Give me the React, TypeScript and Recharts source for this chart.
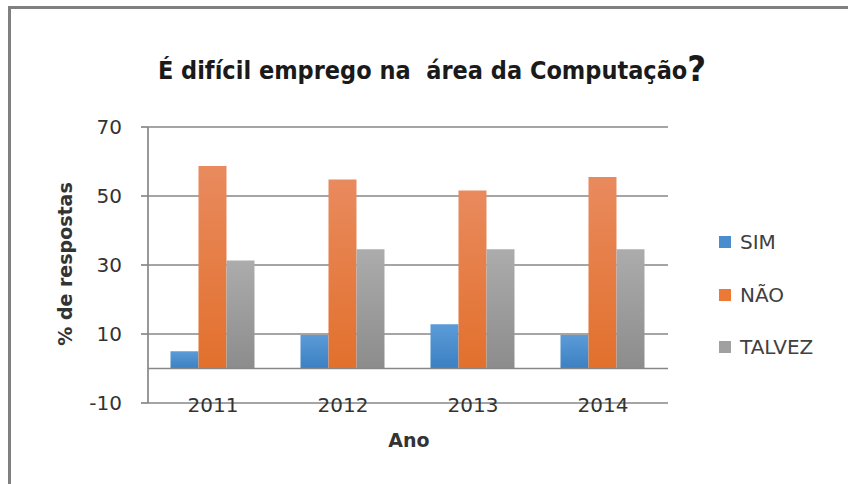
import * as React from "react";
import {
  BarChart,
  Bar,
  XAxis,
  YAxis,
  CartesianGrid,
  ReferenceLine,
} from "recharts";

const years = ["2011", "2012", "2013", "2014"];
const simValues = [5, 9.7, 12.8, 9.7];
const naoValues = [58.7, 54.8, 51.6, 55.5];
const talvezValues = [31.3, 34.6, 34.6, 34.6];
const yTicks = [-10, 10, 30, 50, 70];

const series = [
  { key: "sim", name: "SIM", color: "#4a8dcf", top: "#5b9bd8", bottom: "#3c80c2" },
  { key: "nao", name: "NÃO", color: "#ec7a36", top: "#e98a5e", bottom: "#e2702c" },
  { key: "talvez", name: "TALVEZ", color: "#a0a0a0", top: "#acacac", bottom: "#8c8c8c" },
];

const chartData = years.map((ano, i) => ({
  ano,
  sim: simValues[i],
  nao: naoValues[i],
  talvez: talvezValues[i],
}));

const GRID = "#878787";
const TEXT = "#333333";
const FONT = "'DejaVu Sans', sans-serif";

function YearTick(props: any) {
  const { x, y, payload } = props;
  return (
    <text
      x={x}
      y={y}
      dy={9}
      textAnchor="middle"
      fontFamily={FONT}
      fontSize={20}
      fill={TEXT}
    >
      {payload.value}
    </text>
  );
}

export default function App() {
  return (
    <div
      style={{
        position: "absolute",
        left: 0,
        top: 0,
        width: 848,
        height: 484,
        overflow: "hidden",
        background: "#fff",
      }}
    >
      {/* frame: top and left edges only */}
      <div
        style={{
          position: "absolute",
          left: 8,
          top: 6,
          width: 840,
          height: 3,
          background: "#808080",
        }}
      />
      <div
        style={{
          position: "absolute",
          left: 8,
          top: 6,
          width: 3,
          height: 478,
          background: "#808080",
        }}
      />
      <div
        style={{
          position: "absolute",
          left: 0,
          width: 848,
          top: 48,
          textAlign: "center",
          whiteSpace: "pre",
          fontFamily: "'DejaVu Sans Condensed', 'DejaVu Sans', sans-serif",
          fontWeight: "bold",
          fontSize: 25,
          color: "#1a1a1a",
          paddingLeft: 8,
        }}
      >
        É difícil emprego na  área da Computação
        <span style={{ fontSize: 36, verticalAlign: "-2px" }}>?</span>
      </div>

      <BarChart
        width={848}
        height={484}
        data={chartData}
        margin={{ top: 127, right: 180, bottom: 51, left: 88 }}
        barCategoryGap="17.3%"
        barGap={0}
      >
        <defs>
          {series.map((s) => (
            <linearGradient key={s.key} id={`grad-${s.key}`} x1="0" y1="0" x2="0" y2="1">
              <stop offset="0%" stopColor={s.top} />
              <stop offset="100%" stopColor={s.bottom} />
            </linearGradient>
          ))}
        </defs>
        <CartesianGrid vertical={false} stroke={GRID} strokeWidth={1.7} />
        <XAxis
          dataKey="ano"
          height={30}
          axisLine={false}
          tickLine={false}
          tickSize={0}
          tickMargin={0}
          tick={<YearTick />}
          interval={0}
        />
        <YAxis
          width={60}
          domain={[-10, 70]}
          ticks={yTicks}
          allowDataOverflow
          axisLine={{ stroke: GRID, strokeWidth: 1.7 }}
          tickLine={{ stroke: GRID, strokeWidth: 1.7 }}
          tickSize={7}
          tickMargin={19}
          tick={{ fontFamily: FONT, fontSize: 20, fill: TEXT }}
        />
        <ReferenceLine y={0} stroke={GRID} strokeWidth={1.7} />
        {series.map((s) => (
          <Bar
            key={s.key}
            dataKey={s.key}
            name={s.name}
            fill={`url(#grad-${s.key})`}
            isAnimationActive={false}
          />
        ))}
      </BarChart>

      <div
        style={{
          position: "absolute",
          left: 65,
          top: 264,
          transform: "translate(-50%, -50%) rotate(-90deg)",
          whiteSpace: "nowrap",
          fontFamily: FONT,
          fontWeight: "bold",
          fontSize: 19,
          color: TEXT,
        }}
      >
        % de respostas
      </div>
      <div
        style={{
          position: "absolute",
          left: 409,
          top: 440,
          transform: "translate(-50%, -50%)",
          whiteSpace: "nowrap",
          fontFamily: FONT,
          fontWeight: "bold",
          fontSize: 19,
          color: TEXT,
        }}
      >
        Ano
      </div>

      {series.map((s, i) => (
        <div
          key={s.key}
          style={{
            position: "absolute",
            left: 719,
            top: 242 + i * 52.5,
            transform: "translateY(-50%)",
            display: "flex",
            alignItems: "center",
            fontFamily: FONT,
            fontSize: 20,
            color: "#404040",
            whiteSpace: "nowrap",
          }}
        >
          <span
            style={{
              display: "inline-block",
              width: 12,
              height: 12,
              background: s.color,
              marginRight: 9,
            }}
          />
          {s.name}
        </div>
      ))}
    </div>
  );
}
